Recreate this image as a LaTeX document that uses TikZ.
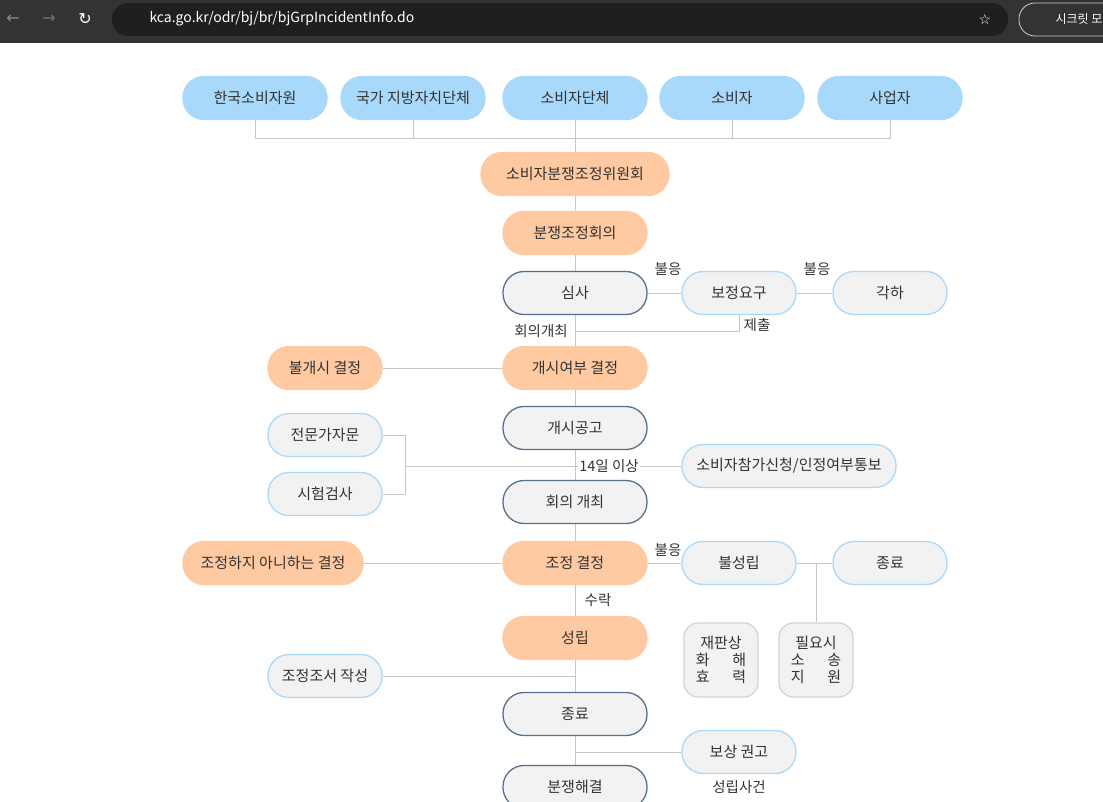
\documentclass[tikz,border=0pt]{standalone}
\usepackage{fontspec}
\setmainfont{Noto Sans CJK KR}
\newfontfamily\djv{DejaVu Sans}
\begin{document}
\begin{tikzpicture}[x=1pt,y=-1pt,
  every node/.style={font=\fontsize{15}{19}\selectfont, text=black!80},
  box/.style={rounded corners=21pt, minimum height=43pt, inner sep=0pt, line width=1.3pt},
  blue/.style={box, fill=top, draw=top},
  org/.style={box, fill=orn, draw=orn},
  dk/.style={box, fill=gy, draw=dkb},
  lb/.style={box, fill=gy, draw=top},
  sq/.style={rounded corners=14pt, minimum width=74pt, minimum height=74pt, fill=gy, draw=black!17, line width=1.3pt, align=center, inner sep=0pt, font=\fontsize{15}{17}\selectfont},
  ln/.style={draw=black!22, line width=1pt},
  lab/.style={font=\fontsize{14.5}{17}\selectfont, inner sep=1pt},
  ic/.style={font=\djv\fontsize{16}{16}\selectfont}
]
\definecolor{top}{HTML}{A9D9FA}
\definecolor{orn}{HTML}{FFC9A1}
\definecolor{gy}{HTML}{F2F2F2}
\definecolor{dkb}{HTML}{55708A}
\useasboundingbox (0,0) rectangle (1103,801);
\clip (0,0) rectangle (1103,801);
% browser bar
\fill[black!80] (0,0) rectangle (1103,43);
\fill[black!88, rounded corners=16pt] (112,3) rectangle (1008,36);
\node[anchor=west, text=white, font=\fontsize{14}{16}\selectfont] (url) at (146,19) {kca.go.kr/odr/bj/br/bjGrpIncidentInfo.do};
\draw[white!80!black, rounded corners=16pt, line width=0.8pt] (1019,3) rectangle (1130,36);
\node[anchor=west, text=white, font=\fontsize{12}{14}\selectfont] (inc) at (1052,19) {시크릿 모};
\node[ic, text=black!45] (b1) at (13,19) {←};
\node[ic, text=black!55] (b2) at (49,19) {→};
\node[ic, text=white] (b3) at (85,19) {↻};
\node[ic, text=white, font=\djv\fontsize{14}{14}\selectfont] (st) at (985,19) {☆};
% top row
\node[blue, minimum width=144pt] (a1) at (255,98) {한국소비자원};
\node[blue, minimum width=144pt] (a2) at (413,98) {국가 지방자치단체};
\node[blue, minimum width=144pt] (a3) at (575,98) {소비자단체};
\node[blue, minimum width=144pt] (a4) at (732,98) {소비자};
\node[blue, minimum width=144pt] (a5) at (890,98) {사업자};
\coordinate (bus) at (575,138);
\path[ln] (a1.south) |- (bus) (a2.south) |- (bus) (a4.south) |- (bus) (a5.south) |- (bus) (a3.south) -- (bus);
% main line
\draw[ln] (bus) -- (575,801);
\node[org, minimum width=188pt] (w) at (575,174) {소비자분쟁조정위원회};
\node[org, minimum width=144pt] (h) at (575,233) {분쟁조정회의};
\node[dk, minimum width=144pt] (s) at (575,293) {심사};
\node[lb, minimum width=114pt] (bj) at (739,293) {보정요구};
\node[lb, minimum width=114pt] (gh) at (890,293) {각하};
\draw[ln] (s) -- (bj) (bj) -- (gh);
\draw[ln] (bj.south) |- (575,331);
\node[lab] (l1) at (668,269) {불응};
\node[lab] (l2) at (817,269) {불응};
\node[lab] (l3) at (757,325) {제출};
\node[lab] (l4) at (541,331) {회의개최};
\node[org, minimum width=144pt] (gy) at (575,368) {개시여부 결정};
\node[org, minimum width=114pt] (bg) at (325,368) {불개시 결정};
\draw[ln] (bg) -- (gy);
\node[dk, minimum width=144pt] (gg) at (575,428) {개시공고};
\node[lb, minimum width=114pt] (jm) at (325,435) {전문가자문};
\node[lb, minimum width=114pt] (sh) at (325,494) {시험검사};
\node[lb, minimum width=214pt] (cg) at (789,466) {소비자참가신청/인정여부통보};
\draw[ln] (jm.east) -| (405,494) -- (sh.east);
\draw[ln] (405,466) -- (cg.west);
\node[lab, fill=white] (l5) at (609,466) {14일 이상};
\node[dk, minimum width=144pt] (hg) at (575,502) {회의 개최};
\node[org, minimum width=144pt] (jj) at (575,563) {조정 결정};
\node[org, minimum width=180pt] (ja) at (273,563) {조정하지 아니하는 결정};
\node[lb, minimum width=114pt] (bs) at (739,563) {불성립};
\node[lb, minimum width=114pt] (jr) at (890,563) {종료};
\draw[ln] (ja) -- (jj) (jj) -- (bs) (bs) -- (jr);
\node[lab] (l6) at (668,550) {불응};
\node[sq] (q1) at (721,660) {재판상\\화\hspace{1.5em}해\\효\hspace{1.5em}력};
\node[sq] (q2) at (816,660) {필요시\\소\hspace{1.5em}송\\지\hspace{1.5em}원};
\draw[ln] (q2.north) -- (816,563);
\node[lab] (l7) at (598,600) {수락};
\node[org, minimum width=144pt] (sr) at (575,638) {성립};
\node[lb, minimum width=114pt] (jc) at (325,676) {조정조서 작성};
\draw[ln] (jc) -- (575,676);
\node[dk, minimum width=144pt] (jl) at (575,714) {종료};
\node[lb, minimum width=114pt] (bk) at (739,752) {보상 권고};
\draw[ln] (575,752) -- (bk);
\node[lab] (l8) at (739,787) {성립사건};
\node[dk, minimum width=144pt] (hj) at (575,787) {분쟁해결};
\end{tikzpicture}
\end{document}
